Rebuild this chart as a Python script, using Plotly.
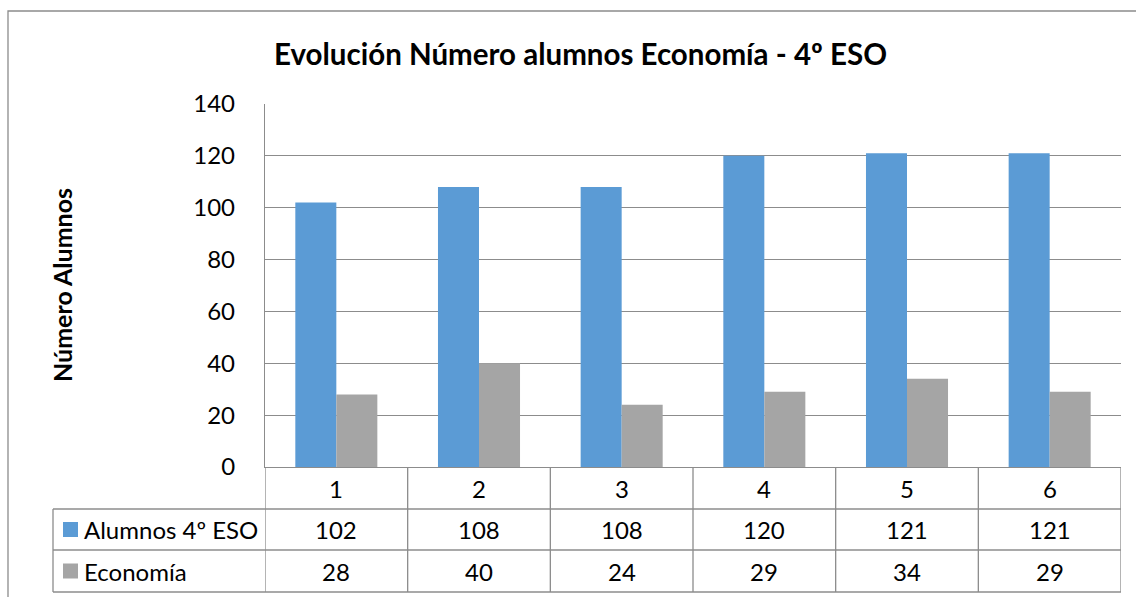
import plotly.graph_objects as go

categorias = ["1", "2", "3", "4", "5", "6"]
alumnos_4eso = [102, 108, 108, 120, 121, 121]
economia = [28, 40, 24, 29, 34, 29]
series_nombres = ["Alumnos 4º ESO", "Economía"]
y_ticks = [0, 20, 40, 60, 80, 100, 120, 140]

AZUL = "#5B9BD5"
GRIS = "#A5A5A5"
LINEA = "#8C8C8C"
FUENTE = "Lato"

# geometria en pixeles del lienzo
W, H = 1136, 597
X0, X1 = 265, 1121
Y0, Y1 = 104, 467


def px(x):
    return (x - X0) / (X1 - X0)


def py(y):
    return (Y1 - y) / (Y1 - Y0)


fig = go.Figure()
fig.add_trace(go.Bar(x=categorias, y=alumnos_4eso, name=series_nombres[0],
                     marker=dict(color=AZUL, line=dict(width=0))))
fig.add_trace(go.Bar(x=categorias, y=economia, name=series_nombres[1],
                     marker=dict(color=GRIS, line=dict(width=0))))

shapes = []
# marco exterior
shapes.append(dict(type="rect", xref="paper", yref="paper",
                   x0=px(8), x1=px(1145), y0=py(11), y1=py(620),
                   line=dict(color=LINEA, width=1.3), layer="below"))

# tabla de datos
fila_y = [467, 509, 550, 592]
for y in fila_y[1:]:
    shapes.append(dict(type="line", xref="paper", yref="paper",
                       x0=px(53), x1=px(X1), y0=py(y), y1=py(y),
                       line=dict(color=LINEA, width=1.3)))
shapes.append(dict(type="line", xref="paper", yref="paper",
                   x0=px(53), x1=px(53), y0=py(509), y1=py(592),
                   line=dict(color=LINEA, width=1.3)))
for i in range(len(categorias) + 1):
    shapes.append(dict(type="line", xref="x", yref="paper",
                       x0=i - 0.5, x1=i - 0.5, y0=0, y1=py(592),
                       line=dict(color=LINEA, width=1.3)))

texto = dict(size=24, color="#000", family=FUENTE)
annotations = []
for i, c in enumerate(categorias):
    for valor, yc in [(c, 488), (str(alumnos_4eso[i]), 529.5),
                      (str(economia[i]), 571)]:
        annotations.append(dict(x=i, y=py(yc), xref="x", yref="paper",
                                text=valor, showarrow=False,
                                xanchor="center", yanchor="middle",
                                font=texto))

# claves de leyenda dentro de la tabla
for nombre, color, yc in [(series_nombres[0], AZUL, 529.5),
                          (series_nombres[1], GRIS, 571)]:
    shapes.append(dict(type="rect", xref="paper", yref="paper",
                       x0=px(63), x1=px(78), y0=py(yc + 7.5), y1=py(yc - 7.5),
                       fillcolor=color, line=dict(width=0)))
    annotations.append(dict(x=px(82), y=py(yc), xref="paper", yref="paper",
                            text=nombre, showarrow=False, xanchor="left",
                            yanchor="middle", font=texto))

# titulo del eje y
annotations.append(dict(x=px(62), y=py(285), xref="paper", yref="paper",
                        text="<b>Número Alumnos</b>", textangle=-90,
                        showarrow=False, xanchor="center", yanchor="middle",
                        font=dict(size=25, color="#000", family=FUENTE)))

fig.update_layout(
    width=W, height=H,
    margin=dict(l=X0, r=W - X1, t=Y0, b=H - Y1),
    paper_bgcolor="white", plot_bgcolor="white",
    font=dict(family=FUENTE, color="#000"),
    title=dict(text="<b>Evolución Número alumnos Economía - 4º ESO</b>",
               x=(273 + 888) / 2 / W, xanchor="center",
               y=1 - 55 / H, yanchor="middle",
               font=dict(size=29.5, color="#000", family=FUENTE)),
    barmode="group", bargap=0.425, bargroupgap=0,
    showlegend=False,
    xaxis=dict(type="category", range=[-0.5, 5.5], showticklabels=False,
               showgrid=False, showline=True, linecolor=LINEA, linewidth=1.3,
               ticks="", zeroline=False),
    yaxis=dict(range=[0, 140], tickvals=y_ticks, showgrid=True,
               gridcolor=LINEA, gridwidth=1.3, showline=True,
               linecolor=LINEA, linewidth=1.3, ticks="", ticklen=0,
               tickfont=dict(size=24, color="#000"), zeroline=False,
               ticklabelstandoff=24),
    shapes=shapes,
    annotations=annotations,
)

fig.write_html("out.html", config={"displayModeBar": False},
               post_script="document.body.style.margin='0';")
